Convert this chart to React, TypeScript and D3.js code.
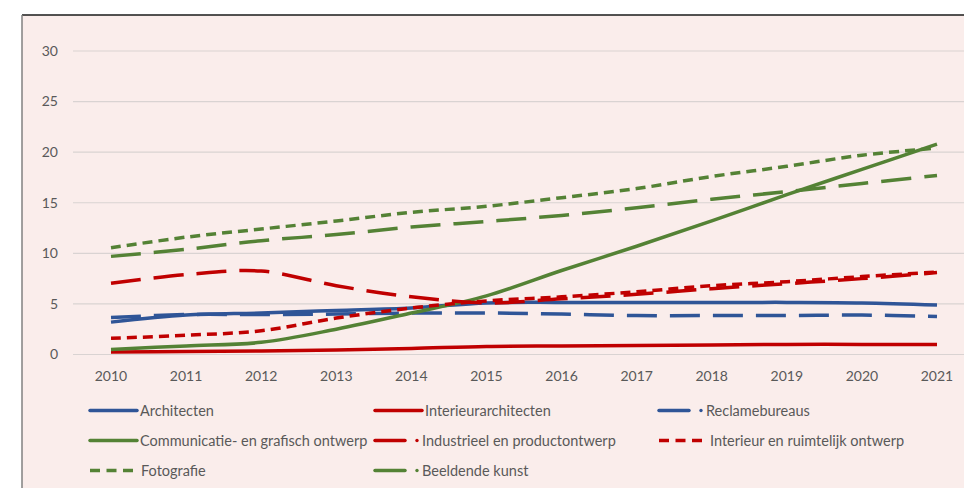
import React from "react";
import * as d3 from "d3";

const years = ["2010","2011","2012","2013","2014","2015","2016","2017","2018","2019","2020","2021"];
const yTicks = [0, 5, 10, 15, 20, 25, 30];

const architecten = [3.2, 3.9, 4.1, 4.35, 4.6, 5.1, 5.15, 5.15, 5.15, 5.15, 5.1, 4.9];
const interieurarchitecten = [0.25, 0.3, 0.35, 0.45, 0.6, 0.8, 0.85, 0.9, 0.95, 1.0, 1.0, 1.0];
const reclamebureaus = [3.65, 3.95, 3.95, 4.0, 4.1, 4.1, 4.0, 3.85, 3.85, 3.85, 3.9, 3.75];
const communicatie = [0.5, 0.85, 1.2, 2.5, 4.1, 5.8, 8.3, 10.7, 13.2, 15.8, 18.3, 20.8];
const industrieel = [7.05, 7.9, 8.25, 6.8, 5.7, 5.1, 5.5, 5.95, 6.5, 7.0, 7.5, 8.1];
const interieurRuimtelijk = [1.6, 1.9, 2.35, 3.6, 4.6, 5.3, 5.7, 6.2, 6.8, 7.2, 7.7, 8.15];
const fotografie = [10.55, 11.6, 12.4, 13.2, 14.05, 14.65, 15.5, 16.4, 17.6, 18.6, 19.7, 20.4];
const beeldendeKunst = [9.7, 10.4, 11.25, 11.85, 12.6, 13.15, 13.75, 14.5, 15.35, 16.1, 16.9, 17.7];

const BLUE = "#2F5597";
const RED = "#C00000";
const GREEN = "#548235";

type Style = "solid" | "long" | "short";
const series: { name: string; values: number[]; color: string; style: Style }[] = [
  { name: "Architecten", values: architecten, color: BLUE, style: "solid" },
  { name: "Interieurarchitecten", values: interieurarchitecten, color: RED, style: "solid" },
  { name: "Reclamebureaus", values: reclamebureaus, color: BLUE, style: "long" },
  { name: "Communicatie- en grafisch ontwerp", values: communicatie, color: GREEN, style: "solid" },
  { name: "Industrieel en productontwerp", values: industrieel, color: RED, style: "long" },
  { name: "Interieur en ruimtelijk ontwerp", values: interieurRuimtelijk, color: RED, style: "short" },
  { name: "Fotografie", values: fotografie, color: GREEN, style: "short" },
  { name: "Beeldende kunst", values: beeldendeKunst, color: GREEN, style: "long" },
];

const dashFor = (s: Style) => (s === "long" ? "30 13" : s === "short" ? "10 6" : undefined);

const FONT = "Lato, 'Open Sans', sans-serif";
const TXT = "#595959";

export default function App() {
  const x = d3.scalePoint<string>().domain(years).range([111, 937]);
  const y = d3.scaleLinear().domain([0, 30]).range([354.5, 51]);
  const line = d3
    .line<number>()
    .x((_, i) => x(years[i]) as number)
    .y((d) => y(d))
    .curve(d3.curveCardinal.tension(0));

  const legendCols = [90, 375, 659];
  const legendRows = [410.5, 440.5, 470.5];

  return (
    <svg
      width={964}
      height={488}
      style={{ position: "absolute", left: 0, top: 0, fontFamily: FONT }}
    >
      <rect x={0} y={0} width={964} height={488} fill="#fff" />
      <rect x={22} y={15} width={942} height={473} fill="#FAEDEB" />
      <line x1={22} y1={15} x2={964} y2={15} stroke="#1a1a1a" strokeWidth={1.5} />
      <line x1={22} y1={15} x2={22} y2={488} stroke="#808080" strokeWidth={1.5} />

      {yTicks.map((t) => (
        <g key={t}>
          <line x1={73} x2={964} y1={y(t)} y2={y(t)} stroke="#D9D3D2" strokeWidth={1.2} />
          <text x={58} y={y(t)} dy="0.35em" textAnchor="end" fontSize={14} fill={TXT}>
            {t}
          </text>
        </g>
      ))}

      {years.map((yr) => (
        <text key={yr} x={x(yr)} y={376} dy="0.35em" textAnchor="middle" fontSize={14} fill={TXT}>
          {yr}
        </text>
      ))}

      {series.map((s) => (
        <path
          key={s.name}
          d={line(s.values) || ""}
          fill="none"
          stroke={s.color}
          strokeWidth={3.5}
          strokeDasharray={dashFor(s.style)}
          strokeLinejoin="round"
        />
      ))}

      {series.map((s, i) => {
        const cx = legendCols[i % 3];
        const cy = legendRows[Math.floor(i / 3)];
        let icon: React.ReactNode;
        let tx = cx + 50;
        if (s.style === "solid") {
          icon = <line x1={cx} x2={cx + 47} y1={cy} y2={cy} stroke={s.color} strokeWidth={3.5} strokeLinecap="round" />;
        } else if (s.style === "short") {
          icon = <line x1={cx} x2={cx + 43} y1={cy} y2={cy} stroke={s.color} strokeWidth={3.5} strokeDasharray="10 6.5" />;
          tx = cx + 51;
        } else {
          icon = (
            <g>
              <line x1={cx} x2={cx + 30} y1={cy} y2={cy} stroke={s.color} strokeWidth={3.5} strokeLinecap="round" />
              <circle cx={cx + 42} cy={cy} r={1.7} fill={s.color} />
            </g>
          );
          tx = cx + 47;
        }
        return (
          <g key={s.name}>
            {icon}
            <text x={tx} y={cy} dy="0.35em" fontSize={14.5} fill={TXT}>
              {s.name}
            </text>
          </g>
        );
      })}
    </svg>
  );
}
